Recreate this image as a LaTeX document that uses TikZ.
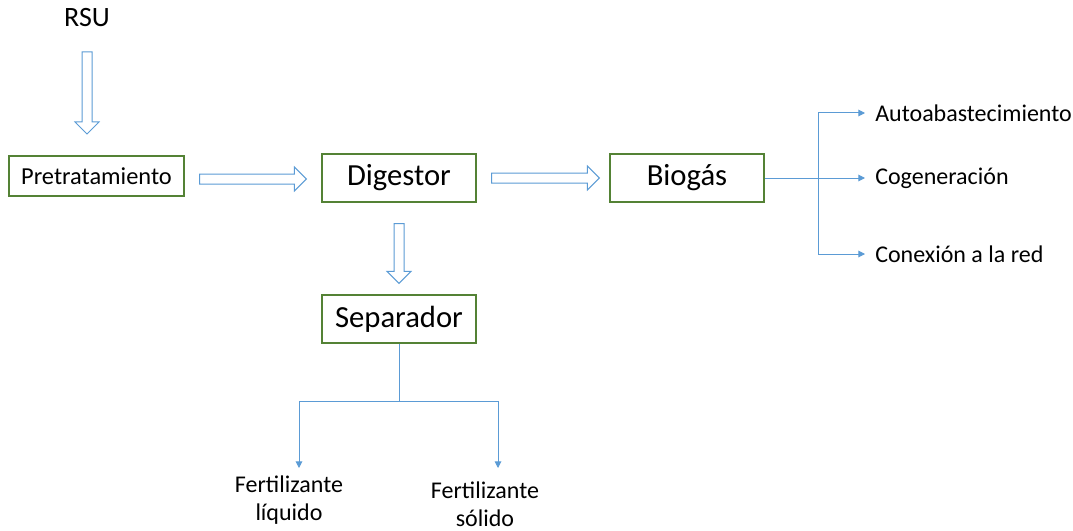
\documentclass[tikz,border=0pt]{standalone}
\usepackage{fontspec}
\setmainfont{Carlito}
\usetikzlibrary{positioning,calc,arrows.meta}
\definecolor{boxgreen}{HTML}{548235}
\definecolor{flowblue}{HTML}{5B9BD5}

% hollow block arrow between two named coordinates
\newcommand{\fatarrow}[2]{%
  \coordinate (hb) at ($(#2)!9pt!(#1)$);
  \draw[flowblue, fill=white, line width=0.75pt, line join=miter]
    ($(#1)!3.75pt!90:(#2)$) -- ($(hb)!3.75pt!-90:(#1)$) -- ($(hb)!9pt!-90:(#1)$)
    -- (#2) -- ($(hb)!9pt!90:(#1)$) -- ($(hb)!3.75pt!90:(#1)$)
    -- ($(#1)!3.75pt!-90:(#2)$) -- cycle;
}

\begin{document}
\begin{tikzpicture}[x=0.75pt, y=-0.75pt,
    stage/.style={draw=boxgreen, line width=1pt, minimum width=115.5pt, minimum height=36pt,
        font=\fontsize{23}{27}\selectfont},
    label/.style={font=\fontsize{18}{21}\selectfont, inner sep=3.75pt},
    flow/.style={flowblue, line width=0.75pt, -{Triangle[width=5pt,length=5pt]}}]
    \useasboundingbox (0,0) rectangle (1073,531);

    % main line
    \node[font=\fontsize{21}{25}\selectfont] (rsu) at (87,18) {RSU};
    \node[stage, minimum width=131.25pt, minimum height=30pt, font=\fontsize{18.3}{21}\selectfont]
        (pre) at (96.5,176) {Pretratamiento};
    \node[stage] (dig) at (399,178) {Digestor};
    \node[stage] (bio) at (687,178) {Biogás};
    \node[stage] (sep) at (399,319) {Separador};

    % hollow arrows
    \coordinate (a0s) at ($(rsu)+(0,34)$);
    \coordinate (a0e) at ($(rsu)+(0,116)$);
    \fatarrow{a0s}{a0e}
    \coordinate (a1s) at ($(pre.east)+(15,3)$);
    \coordinate (a1e) at ($(dig.west)+(-15,1)$);
    \fatarrow{a1s}{a1e}
    \coordinate (a2s) at ($(dig.east)+(15,0)$);
    \coordinate (a2e) at ($(bio.west)+(-10,0)$);
    \fatarrow{a2s}{a2e}
    \coordinate (a3s) at ($(dig.south)+(0,21)$);
    \coordinate (a3e) at ($(sep.north)+(0,-11)$);
    \fatarrow{a3s}{a3e}

    % uses of the biogas
    \node[label, anchor=west] (auto) at (870,113) {Autoabastecimiento};
    \node[label, anchor=west] (cog) at (870,178) {Cogeneración};
    \node[label, anchor=west] (red) at (870,254) {Conexión a la red};
    \coordinate (bj) at ($(bio.east)+(54,0)$);
    \draw[flow, shorten >=3.75pt] (bio.east) -- (cog.west);
    \draw[flow, shorten >=3.75pt] (bj) |- (auto.west);
    \draw[flow, shorten >=3.75pt] (bj) |- (red.west);

    % fertilisers
    \node[label, align=center] (liq) at (289,500) {Fertilizante\\líquido};
    \node[label, align=center] (sol) at (485,504) {Fertilizante\\sólido};
    \coordinate (sj) at ($(sep.south)+(0,58)$);
    \coordinate (lt) at (299,468);
    \coordinate (st) at (498,468);
    \draw[flowblue, line width=0.75pt] (sep.south) -- (sj);
    \draw[flow] (sj) -| (lt);
    \draw[flow] (sj) -| (st);
\end{tikzpicture}
\end{document}
